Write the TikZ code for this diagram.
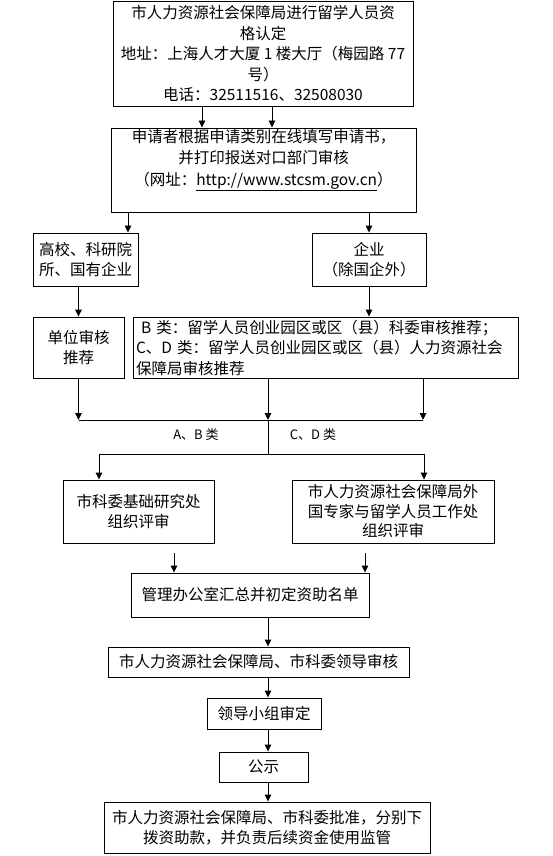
\documentclass[tikz,border=0pt]{standalone}
\usepackage{fontspec}
\setmainfont{Noto Sans CJK SC}
\usetikzlibrary{arrows.meta}
\begin{document}
\begin{tikzpicture}[x=1pt,y=-1pt,
  box/.style={draw, line width=0.9pt, inner sep=0pt, align=center, font=\fontsize{15.5}{20.5}\selectfont},
  txt/.style={inner sep=0pt, align=center, font=\fontsize{15.5}{21.5}\selectfont},
  lbl/.style={inner sep=0pt, font=\fontsize{13}{15}\selectfont},
  arr/.style={line width=0.9pt, -{Triangle[length=7pt,width=6.5pt]}},
  ln/.style={line width=0.9pt}]
\useasboundingbox[fill=white] (0,0) rectangle (552,856);

% boxes
\node[box, minimum width=300pt, minimum height=105pt] (b1) at (263,54)
  {市人力资源社会保障局进行留学人员资\\格认定\\地址：上海人才大厦 1 楼大厅（梅园路 77\\号）\\电话：32511516、32508030};
\node[box, minimum width=305pt, minimum height=84pt] (b2) at (263.5,170) {};
\node[txt] (b2t) at (263.5,160)
  {申请者根据申请类别在线填写申请书，\\并打印报送对口部门审核\\（网址：\underline{http://www.stcsm.gov.cn}）};
\node[box, minimum width=105pt, minimum height=53pt] (b3a) at (85.5,259.5) {高校、科研院\\所、国有企业};
\node[box, minimum width=114pt, minimum height=53pt] (b3b) at (369,259.5) {企业\\（除国企外）};
\node[box, minimum width=91pt, minimum height=61pt] (b4a) at (78.5,347.5) {单位审核\\推荐};
\node[box, minimum width=385pt, minimum height=61pt, text width=379pt, align=left, inner xsep=3pt] (b4b) at (325.5,347.5)
  {\hspace{5pt}B 类：留学人员创业园区或区（县）科委审核推荐；\\C、D 类：留学人员创业园区或区（县）人力资源社会\\保障局审核推荐};
\node[box, minimum width=151pt, minimum height=63pt] (b5a) at (138.5,511.5) {市科委基础研究处\\组织评审};
\node[box, minimum width=202pt, minimum height=63pt, font=\fontsize{15.5}{19.5}\selectfont] (b5b) at (393,511.5)
  {市人力资源社会保障局外\\国专家与留学人员工作处\\组织评审};
\node[box, minimum width=238pt, minimum height=44pt] (b6) at (250,595) {管理办公室汇总并初定资助名单};
\node[box, minimum width=301pt, minimum height=30pt] (b7) at (258.5,662) {市人力资源社会保障局、市科委领导审核};
\node[box, minimum width=114pt, minimum height=31pt] (b8) at (264,713.5) {领导小组审定};
\node[box, minimum width=89pt, minimum height=30pt] (b9) at (263.5,767) {公示};
\node[box, minimum width=326pt, minimum height=51pt] (b10) at (267,827.5)
  {市人力资源社会保障局、市科委批准，分别下\\拨资助款，并负责后续资金使用监管};

% labels
\node[lbl] (lab) at (196,435) {A、B 类};
\node[lbl] (lcd) at (313,435) {C、D 类};

% coordinates
\coordinate (x1) at (202,0);
\coordinate (x2) at (272,0);
\coordinate (x3) at (128,0);
\coordinate (m1) at (78.5,420);
\coordinate (m2) at (268,420);
\coordinate (m3) at (423,420);
\coordinate (s) at (268,454);
\coordinate (sL) at (99,454);
\coordinate (sR) at (424,454);
\coordinate (g1) at (174,553);
\coordinate (g2) at (365,553);
\coordinate (xc) at (268,0);

% connectors
\draw[arr] (b1.south -| x1) -- (b2.north -| x1);
\draw[arr] (b1.south -| x2) -- (b2.north -| x2);
\draw[arr] (b2.south -| x3) -- (b3a.north -| x3);
\draw[arr] (b2.south -| b3b.north) -- (b3b.north);
\draw[arr] (b3a.south -| b4a.north) -- (b4a.north);
\draw[arr] (b3b.south) -- (b3b.south |- b4b.north);
\draw[arr] (b4a.south) -- (m1);
\draw[arr] (b4b.south -| m2) -- (m2);
\draw[arr] (b4b.south -| m3) -- (m3);
\draw[ln] (m1) -- (m3);
\draw[ln] (m2) -- (s);
\draw[ln] (sL) -- (sR);
\draw[arr] (sL) -- (sL |- b5a.north);
\draw[arr] (sR) -- (sR |- b5b.north);
\draw[arr] (g1) -- (g1 |- b6.north);
\draw[arr] (g2) -- (g2 |- b6.north);
\draw[arr] (b6.south -| xc) -- (b7.north -| xc);
\draw[arr] (b7.south -| xc) -- (b8.north -| xc);
\draw[arr] (b8.south -| xc) -- (b9.north -| xc);
\draw[arr] (b9.south -| xc) -- (b10.north -| xc);
\end{tikzpicture}
\end{document}
